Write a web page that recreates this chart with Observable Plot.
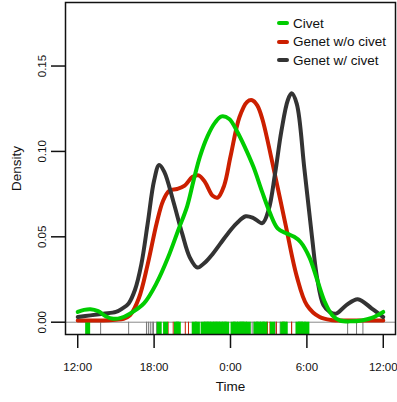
<!DOCTYPE html>
<html>
<head>
<meta charset="utf-8">
<script src="https://cdn.jsdelivr.net/npm/d3@7"></script>
<script src="https://cdn.jsdelivr.net/npm/@observablehq/plot@0.6"></script>
<style>
  body { margin: 0; background: #fff; }
  #wrap { position: relative; width: 397px; height: 402px; font-family: "Liberation Sans", Arial, Helvetica, sans-serif; }
  #legend { position: absolute; left: 277px; top: 14px; font-size: 13.5px; color: #111; }
  #legend .row { display: flex; align-items: center; height: 18.5px; }
  #legend .swatch { width: 12px; height: 4px; border-radius: 2px; margin-right: 4px; }
</style>
</head>
<body>
<div id="wrap"></div>
<script>
// Kernel density of activity time, hours after 12:00 (0 = noon, 12 = midnight)
const civetCurve = [
  [0,0.006],[0.5,0.0072],[1,0.0076],[1.6,0.0065],[2.2,0.0035],[2.8,0.002],[3.4,0.0025],
  [4.1,0.005],[5.2,0.011],[6.2,0.023],[7.1,0.038],[7.9,0.054],[8.6,0.068],[9.1,0.083],
  [9.6,0.097],[10.2,0.109],[10.8,0.117],[11.3,0.1205],[11.9,0.119],[12.5,0.112],[13.1,0.103],
  [13.8,0.091],[14.5,0.076],[15.1,0.064],[15.7,0.055],[16.4,0.052],[17.0,0.050],[17.5,0.047],
  [18.2,0.038],[18.8,0.025],[19.4,0.012],[20.0,0.004],[20.6,0.001],[21.5,0.0005],[22.3,0.001],
  [23.1,0.0025],[24,0.006]
];
const genetWithoutCurve = [
  [0,0.001],[2,0.001],[3,0.0015],[3.6,0.002],[4.1,0.004],[4.8,0.014],[5.5,0.034],[6.2,0.058],
  [6.7,0.071],[7.2,0.077],[7.8,0.078],[8.4,0.080],[9.0,0.085],[9.5,0.086],[10.0,0.082],
  [10.6,0.074],[11.0,0.073],[11.5,0.080],[12.0,0.097],[12.7,0.120],[13.3,0.129],[13.7,0.130],
  [14.1,0.127],[14.5,0.119],[15.3,0.093],[16.3,0.058],[17.2,0.027],[18.0,0.010],[19.0,0.003],
  [20,0.0012],[21,0.001],[24,0.001]
];
const genetWithCurve = [
  [0,0.003],[1,0.004],[2,0.005],[3,0.006],[3.5,0.008],[4,0.011],[4.5,0.019],[5,0.034],
  [5.5,0.058],[6,0.083],[6.4,0.092],[6.8,0.088],[7.5,0.071],[8.2,0.052],[8.8,0.038],[9.4,0.032],
  [10,0.035],[10.6,0.040],[11.2,0.046],[11.8,0.052],[12.5,0.058],[13.2,0.062],[13.8,0.061],
  [14.5,0.058],[15,0.066],[15.5,0.087],[16,0.112],[16.5,0.130],[16.8,0.134],[17.2,0.128],
  [17.8,0.090],[18.4,0.050],[18.8,0.026],[19.3,0.010],[19.8,0.006],[20.3,0.005],[21.1,0.010],
  [22.0,0.0135],[23.1,0.008],[24,0.003]
];

// Individual detections shown as a rug
const civetRug = [0.78, 6.4, 6.9, 7.75, 7.9, 9.15, 9.4, 9.85, 10.1, 10.3, 10.55, 10.8, 11.0, 11.25,
  11.5, 11.7, 12.2, 12.4, 12.7, 12.9, 13.1, 13.4, 14.0, 14.2, 14.5, 14.7, 15.3, 16.1, 16.3,
  17.3, 17.5, 17.7, 18.0];
const genetWithRug = [1.8, 4.0, 5.4, 5.55, 5.7, 5.85, 5.95, 6.2, 13.7, 13.85, 14.85, 15.5, 15.6,
  15.9, 16.4, 16.8, 21.2, 21.9, 22.4];
const genetWithoutRug = [7.1, 7.5, 8.45, 8.7, 14.9, 15.1, 15.6, 16.1, 16.8];

const seriesNames = ["Civet", "Genet w/o civet", "Genet w/ civet"];
const seriesColors = ["#00cc00", "#cc1f00", "#333333"];

const xTicks = [0, 6, 12, 18, 24];
const xTickLabels = ["12:00", "18:00", "0:00", "6:00", "12:00"];
const yTicks = [0, 0.05, 0.10, 0.15];

const xDomain = [-0.96, 24.96];
const yDomain = [-0.0072, 0.1872];
const yMin = yDomain[0];

const rug = (values, color, width) =>
  Plot.ruleX(values, {x: d => d, y1: 0, y2: yMin, stroke: color, strokeWidth: width});
const curve = (data, color) =>
  Plot.line(data, {x: d => d[0], y: d => d[1], stroke: color, strokeWidth: 4,
    curve: "catmull-rom", strokeLinecap: "round", strokeLinejoin: "round"});

const chart = Plot.plot({
  width: 397,
  height: 402,
  marginLeft: 65,
  marginRight: 2,
  marginTop: 2,
  marginBottom: 68,
  x: {domain: xDomain, axis: null},
  y: {domain: yDomain, axis: null},
  style: {fontFamily: "'Liberation Sans', Arial, Helvetica, sans-serif", background: "white", color: "#111"},
  marks: [
    Plot.ruleY([0], {stroke: "#8a8a8a", strokeWidth: 1}),
    rug(genetWithRug, "#777", 1),
    rug(genetWithoutRug, "#cc1f00", 1),
    rug(civetRug, "#00cc00", 5),
    curve(genetWithoutCurve, seriesColors[1]),
    curve(genetWithCurve, seriesColors[2]),
    curve(civetCurve, seriesColors[0]),
    Plot.frame({stroke: "#111", strokeWidth: 1.5}),
    Plot.axisX({ticks: xTicks, anchor: "bottom", tickSize: 14, tickPadding: 14, strokeWidth: 1.5,
      tickFormat: d => xTickLabels[xTicks.indexOf(d)], fontSize: 11.5, label: null}),
    Plot.axisY({ticks: yTicks, anchor: "left", tickSize: 14, strokeWidth: 1.5,
      tickFormat: () => "", label: null}),
    Plot.text(yTicks, {y: d => d, text: d => d3.format(".2f")(d), frameAnchor: "left", dx: -23,
      rotate: -90, fontSize: 11.5, textAnchor: "middle", lineAnchor: "middle"}),
    Plot.text(["Density"], {text: d => d, frameAnchor: "left", dx: -49, rotate: -90,
      fontSize: 13.5, textAnchor: "middle", lineAnchor: "middle"}),
    Plot.text(["Time"], {text: d => d, frameAnchor: "bottom", dy: 47, lineAnchor: "top", fontSize: 13.5})
  ]
});

const wrap = document.getElementById("wrap");
wrap.appendChild(chart);

const legend = document.createElement("div");
legend.id = "legend";
seriesNames.forEach((name, i) => {
  const row = document.createElement("div");
  row.className = "row";
  const sw = document.createElement("span");
  sw.className = "swatch";
  sw.style.background = seriesColors[i];
  const label = document.createElement("span");
  label.textContent = name;
  row.appendChild(sw);
  row.appendChild(label);
  legend.appendChild(row);
});
wrap.appendChild(legend);
</script>
</body>
</html>
